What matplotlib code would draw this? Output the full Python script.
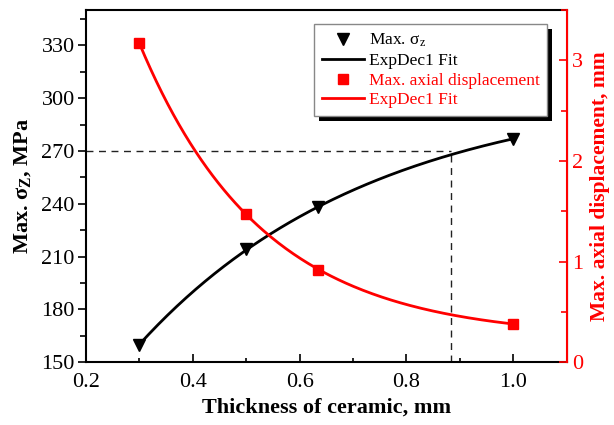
import numpy as np
import matplotlib
matplotlib.use("Agg")
import matplotlib.pyplot as plt
from matplotlib.lines import Line2D
from matplotlib.patches import Rectangle
from matplotlib.ticker import MultipleLocator, FormatStrFormatter

plt.rcParams['font.family'] = ['Liberation Serif', 'DejaVu Serif']
plt.rcParams['mathtext.fontset'] = 'custom'
plt.rcParams['mathtext.rm'] = 'Liberation Serif'
plt.rcParams['mathtext.bf'] = 'Liberation Serif:bold'
plt.rcParams['mathtext.it'] = 'Liberation Serif:italic'

# data
thickness = [0.3, 0.5, 0.635, 1.0]
stress = [160, 214, 238, 277]            # Max. sigma_z, MPa
displacement = [3.17, 1.47, 0.92, 0.38]  # Max. axial displacement, mm
cross_x = 0.884
cross_y = 270


def expdec1_fit(x, y):
    # y = A1*exp(-x/t1) + y0, search t1 and solve A1, y0 by least squares
    x = np.asarray(x, float)
    y = np.asarray(y, float)
    best = None
    for t1 in np.linspace(0.02, 5, 5000):
        M = np.column_stack([np.exp(-x / t1), np.ones_like(x)])
        coef = np.linalg.lstsq(M, y, rcond=None)[0]
        err = np.sum((M @ coef - y) ** 2)
        if best is None or err < best[0]:
            best = (err, t1, coef)
    _, t1, (a1, y0) = best
    return lambda xx: a1 * np.exp(-xx / t1) + y0


fit_s = expdec1_fit(thickness, stress)
fit_d = expdec1_fit(thickness, displacement)
xs = np.linspace(min(thickness), max(thickness), 200)

fig = plt.figure(figsize=(6.14, 4.25), dpi=100)
ax = fig.add_axes([0.140, 0.148, 0.783, 0.828])
ax2 = ax.twinx()

red = '#ff0000'

# dashed guide lines
ax.plot([0.2, cross_x], [cross_y, cross_y], ls=(0, (5, 4)), color='#222222', lw=1.0, zorder=1)
ax.plot([cross_x, cross_x], [150, cross_y], ls=(0, (5, 4)), color='#222222', lw=1.0, zorder=1)

ax.plot(xs, fit_s(xs), color='black', lw=2)
ax.plot(thickness, stress, ls='none', marker='v', color='black', ms=9)
ax2.plot(xs, fit_d(xs), color=red, lw=2)
ax2.plot(thickness, displacement, ls='none', marker='s', color=red, ms=7.5)

ax.set_xlim(0.2, 1.1)
ax.set_ylim(150, 350)
ax2.set_ylim(0, 3.5)

ax.xaxis.set_major_locator(MultipleLocator(0.2))
ax.xaxis.set_minor_locator(MultipleLocator(0.1))
ax.yaxis.set_major_locator(MultipleLocator(30))
ax.yaxis.set_minor_locator(MultipleLocator(15))
ax2.yaxis.set_major_locator(MultipleLocator(1))
ax2.yaxis.set_minor_locator(MultipleLocator(0.5))
ax.xaxis.set_major_formatter(FormatStrFormatter('%.1f'))

ax.tick_params(axis='x', which='both', direction='in', top=False, labelsize=16, width=1.2, pad=8)
ax.tick_params(axis='x', which='major', length=6)
ax.tick_params(axis='x', which='minor', length=3)
ax.tick_params(axis='y', which='both', direction='out', labelsize=16, width=1.2, pad=2)
ax.tick_params(axis='y', which='major', length=6)
ax.tick_params(axis='y', which='minor', length=4)
ax2.tick_params(axis='y', which='both', direction='in', colors=red, labelsize=16, width=1.2, pad=4)
ax2.tick_params(axis='y', which='major', length=6)
ax2.tick_params(axis='y', which='minor', length=4)

for s in ['left', 'bottom', 'top']:
    ax.spines[s].set_linewidth(1.5)
ax2.spines['right'].set_color(red)
ax2.spines['right'].set_linewidth(1.5)
ax2.spines['left'].set_visible(False)
ax2.spines['bottom'].set_visible(False)
ax2.spines['top'].set_visible(False)

ax.set_xlabel('Thickness of ceramic, mm', fontsize=16, fontweight='bold', labelpad=4)
ax.set_ylabel(r'Max. σ$_\mathbf{Z}$, MPa', fontsize=16, fontweight='bold', labelpad=6)
ax2.set_ylabel('Max. axial displacement, mm', fontsize=15.5, fontweight='bold', color=red, labelpad=5)

handles = [
    Line2D([], [], ls='none', marker='v', color='black', ms=9),
    Line2D([], [], color='black', lw=2),
    Line2D([], [], ls='none', marker='s', color=red, ms=7.5),
    Line2D([], [], color=red, lw=2),
]
labels = ['Max. σ$_\\mathrm{z}$', 'ExpDec1 Fit', 'Max. axial displacement', 'ExpDec1 Fit']
leg = ax2.legend(handles, labels, loc='upper right', bbox_to_anchor=(0.96, 0.96),
                 borderaxespad=0, fontsize=12.5, frameon=True, fancybox=False,
                 framealpha=1, handlelength=2.4, handletextpad=0.3, labelspacing=0.2,
                 borderpad=0.45)
leg.get_frame().set_edgecolor('#888888')
leg.get_frame().set_linewidth(1.0)
leg.set_zorder(10)
for t, c in zip(leg.get_texts(), ['black', 'black', red, red]):
    t.set_color(c)

# black drop shadow behind the legend
fig.canvas.draw()
bb = leg.get_window_extent()
shadow = Rectangle((bb.x0 + 5, bb.y0 - 5), bb.width, bb.height, transform=None,
                   facecolor='black', edgecolor='none', zorder=9)
ax2.add_artist(shadow)

fig.savefig('out.png', dpi=100)
